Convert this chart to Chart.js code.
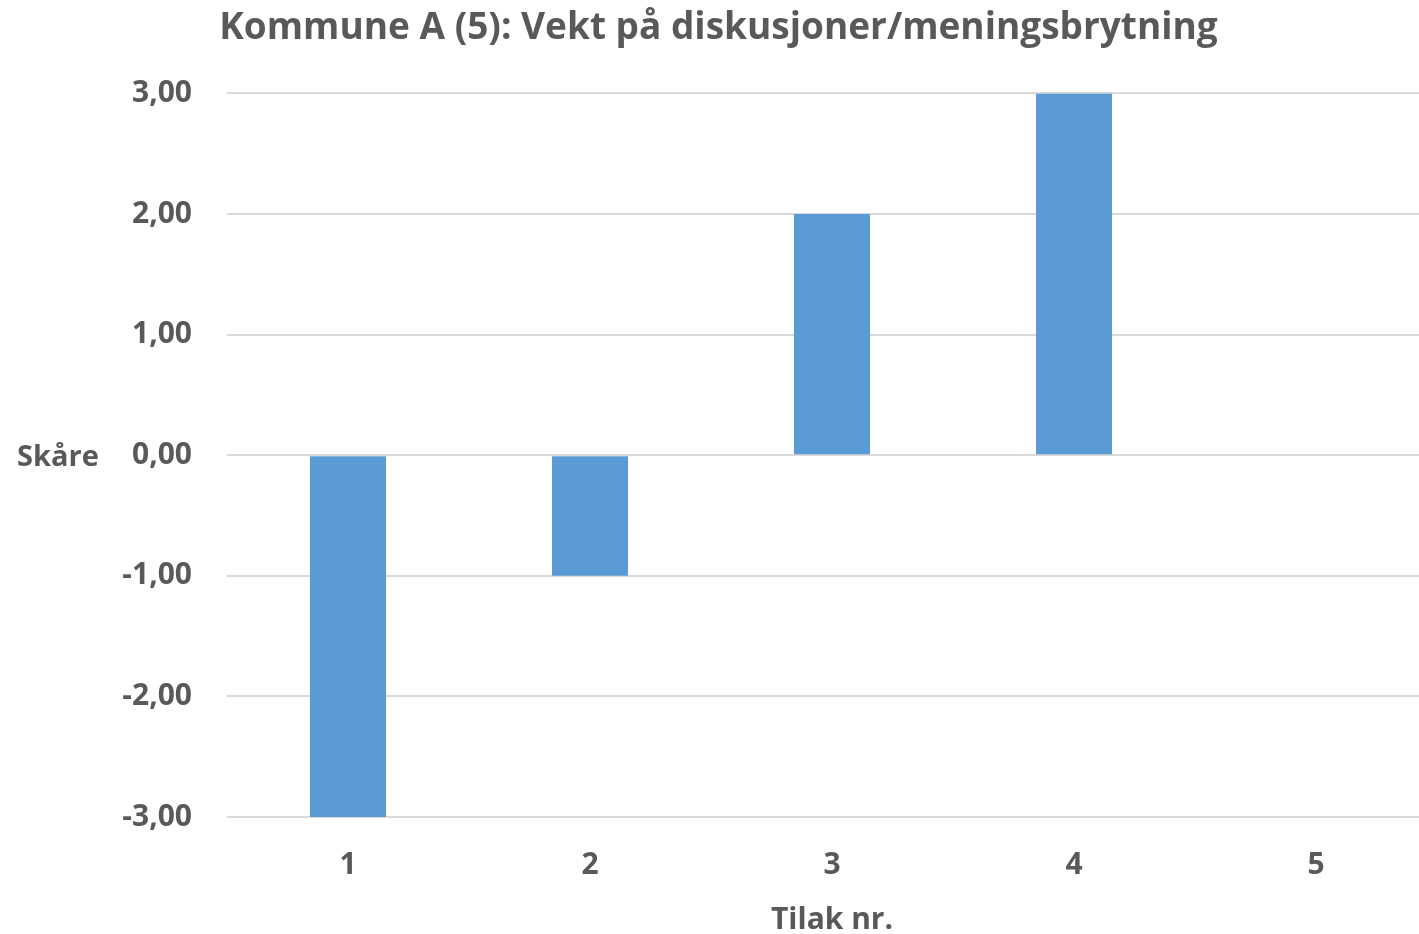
<!DOCTYPE html>
<html lang="en">
<head>
<meta charset="UTF-8">
<title>Kommune A (5)</title>
<style>
  html, body { margin: 0; padding: 0; background: #fff; overflow: hidden; }
  #wrap { width: 1450px; height: 939px; }
</style>
</head>
<body>
<div id="wrap"><canvas id="myChart" width="1450" height="939"></canvas></div>
<script src="https://cdn.jsdelivr.net/npm/chart.js@4/dist/chart.umd.min.js"></script>
<script>
const titleText = 'Kommune A (5): Vekt på diskusjoner/meningsbrytning'
const categories = ['1', '2', '3', '4', '5']
const scores = [-3, -1, 2, 3, 0]
const yTitle = 'Skåre'
const xTitle = 'Tilak nr.'

const grey = '#595959'
const font = '"Open Sans", sans-serif'

// horizontal y-axis title, like the original
const sideTitle = {
  id: 'sideTitle',
  afterDraw(chart) {
    const c = chart.ctx
    const y = chart.scales.y.getPixelForValue(0)
    c.save()
    c.font = 'bold 29px ' + font
    c.fillStyle = grey
    c.textAlign = 'left'
    c.textBaseline = 'middle'
    c.fillText(yTitle, 17, y + 3)
    c.restore()
  }
}

const ctx = document.getElementById('myChart')
new Chart(ctx, {
  type: 'bar',
  data: {
    labels: categories,
    datasets: [{
      data: scores,
      backgroundColor: '#5b9bd5',
      borderWidth: 0,
      barPercentage: 1,
      categoryPercentage: 0.314
    }]
  },
  plugins: [sideTitle],
  options: {
    responsive: false,
    animation: false,
    layout: { padding: { top: 0, right: 13, bottom: 4, left: 0 } },
    plugins: {
      legend: { display: false },
      tooltip: { enabled: false },
      title: {
        display: true,
        text: titleText,
        color: grey,
        font: { family: font, size: 37, weight: 'bold' },
        padding: { top: 6, bottom: 43 }
      }
    },
    scales: {
      y: {
        min: -3,
        max: 3,
        afterFit: s => { s.width = 227 },
        border: { display: false },
        grid: { color: '#d9d9d9', lineWidth: 2, drawTicks: false },
        ticks: {
          stepSize: 1,
          padding: 35,
          color: grey,
          font: { family: font, size: 30, weight: 'bold' },
          callback: v => v.toFixed(2).replace('.', ',')
        }
      },
      x: {
        border: { display: false },
        grid: { display: false },
        ticks: {
          padding: 25,
          color: grey,
          font: { family: font, size: 30, weight: 'bold', lineHeight: 1 }
        },
        title: {
          display: true,
          text: xTitle,
          color: grey,
          font: { family: font, size: 30, weight: 'bold', lineHeight: 1 },
          padding: { top: 0, bottom: 0 }
        }
      }
    }
  }
})
</script>
</body>
</html>
